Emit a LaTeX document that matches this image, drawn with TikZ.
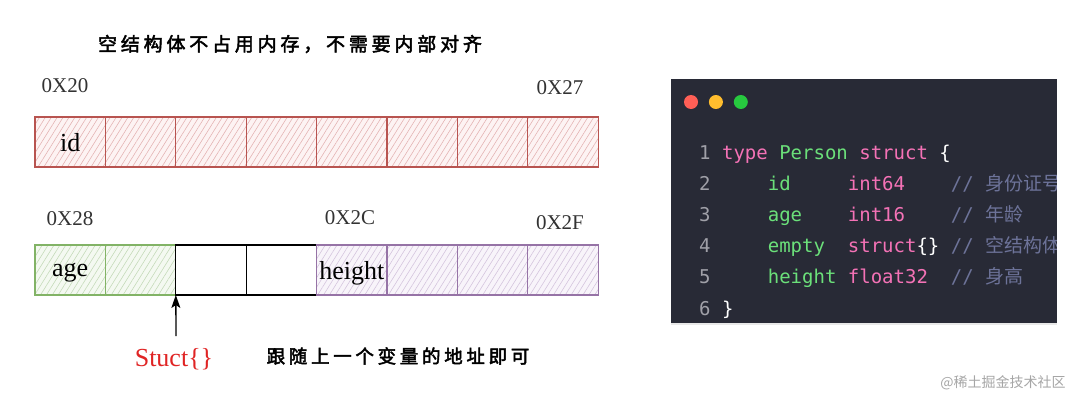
\documentclass[tikz,border=0pt]{standalone}
\usepackage{fontspec}
\setmainfont{Liberation Serif}
\setmonofont{DejaVu Sans Mono}
\newfontfamily\cjk{Noto Sans CJK SC}
\newfontfamily\cjkhand[LetterSpace=20,FakeBold=2.5]{Noto Sans CJK SC}
\usetikzlibrary{positioning,patterns.meta,arrows.meta,shadows}

\definecolor{idred}{HTML}{B85450}
\definecolor{idfill}{HTML}{FDF3F3}
\definecolor{idhatch}{HTML}{E3B0B0}
\definecolor{agegreen}{HTML}{82B366}
\definecolor{agefill}{HTML}{F4F9F1}
\definecolor{agehatch}{HTML}{C2D9B6}
\definecolor{hpurple}{HTML}{9673A6}
\definecolor{hfill}{HTML}{F8F4FA}
\definecolor{hhatch}{HTML}{D3C2DC}
\definecolor{structred}{HTML}{E02424}
\definecolor{panelbg}{HTML}{282A36}
\definecolor{lnum}{HTML}{A0A0A8}
\definecolor{kw}{HTML}{F472B6}
\definecolor{ty}{HTML}{6BE07A}
\definecolor{cmt}{HTML}{6D7399}
\definecolor{dotred}{HTML}{FF5F56}
\definecolor{dotyellow}{HTML}{FFBD2E}
\definecolor{dotgreen}{HTML}{27C93F}

\tikzstyle{cell} = [draw, line width=1.3pt, minimum width=70.4pt, minimum height=50pt,
  inner sep=0pt, outer sep=0pt, text depth=0pt, font=\fontsize{26}{28}\selectfont]
\tikzstyle{idcell} = [cell, draw=idred, preaction={fill=idfill},
  pattern={Lines[angle=58,distance=5pt,line width=0.55pt]}, pattern color=idhatch]
\tikzstyle{agecell} = [cell, draw=agegreen, preaction={fill=agefill},
  pattern={Lines[angle=58,distance=5pt,line width=0.55pt]}, pattern color=agehatch]
\tikzstyle{hcell} = [cell, draw=hpurple, preaction={fill=hfill},
  pattern={Lines[angle=58,distance=5pt,line width=0.55pt]}, pattern color=hhatch]
\tikzstyle{emptycell} = [cell, draw=black]
\tikzstyle{addr} = [font=\fontsize{21}{23}\selectfont, text=black!80]
\tikzstyle{hand} = [font=\cjkhand\fontsize{19}{21}\selectfont]
\tikzstyle{dot} = [circle, minimum size=14pt, inner sep=0pt]
\tikzstyle{codeline} = [anchor=base west, inner sep=0pt, text=lnum,
  font=\ttfamily\fontsize{19}{22}\selectfont]

\newcommand{\cmt}[1]{\textcolor{cmt}{//~{\cjk #1}}}

\begin{document}
\begin{tikzpicture}[x=1pt, y=-1pt]
\useasboundingbox[fill=white] (0,0) rectangle (1080,407);

% title
\node[hand] (title) at (290,44) {空结构体不占用内存，不需要内部对齐};

% first word: id
\node[addr] (l20) at (65,86) {0X20};
\node[addr] (l27) at (560,88) {0X27};
\node[idcell] (a1) at (70.2,142) {id};
\foreach \i [count=\j from 2] in {1,...,7}
  \node[idcell, right=0pt of a\i] (a\j) {};

% second word: age, empty, height
\node[addr] (l28) at (70,219) {0X28};
\node[addr] (l2c) at (350,218) {0X2C};
\node[addr] (l2f) at (560,223) {0X2F};
\node[agecell] (g1) at (70.2,270) {age};
\node[agecell, right=0pt of g1] (g2) {};
\node[emptycell, right=0pt of g2] (k1) {};
\node[emptycell, right=0pt of k1] (k2) {};
\node[hcell, right=0pt of k2] (p1) {height};
\foreach \i [count=\j from 2] in {1,...,3}
  \node[hcell, right=0pt of p\i] (p\j) {};

% the empty struct sits on the next address
\coordinate (tail) at (176,336);
\draw[-{Stealth[length=13pt,width=9pt,inset=3pt]}, line width=1.3pt] (tail) -- (g2.south east);
\node[font=\fontsize{26}{28}\selectfont, text=structred] (stc) at (174,359) {Stuct\{\}};
\node[hand, font=\cjkhand\fontsize{18.5}{20}\selectfont] (note) at (398,356) {跟随上一个变量的地址即可};

% code panel
\node[fill=panelbg, minimum width=386pt, minimum height=244pt, inner sep=0pt,
  drop shadow={shadow xshift=0pt, shadow yshift=-2pt, opacity=0.18}] (pnl) at (863.5,201) {};
\node[dot, fill=dotred] (d1) at (691,102) {};
\node[dot, fill=dotyellow, right=10.5pt of d1] (d2) {};
\node[dot, fill=dotgreen, right=10.5pt of d2] (d3) {};

\begin{scope}
\clip (pnl.south west) rectangle (pnl.north east);
\node[codeline] (c1) at (699,159) {1~\textcolor{kw}{type}~\textcolor{ty}{Person}~\textcolor{kw}{struct}~\textcolor{white}{\{}};
\node[codeline] (c2) at (699,190) {2~~~~~\textcolor{ty}{id}~~~~~\textcolor{kw}{int64}~~~~\cmt{身份证号}};
\node[codeline] (c3) at (699,221) {3~~~~~\textcolor{ty}{age}~~~~\textcolor{kw}{int16}~~~~\cmt{年龄}};
\node[codeline] (c4) at (699,252) {4~~~~~\textcolor{ty}{empty}~~\textcolor{kw}{struct}\textcolor{white}{\{\}}~\cmt{空结构体}};
\node[codeline] (c5) at (699,283) {5~~~~~\textcolor{ty}{height}~\textcolor{kw}{float32}~~\cmt{身高}};
\node[codeline] (c6) at (699,315) {6~\textcolor{white}{\}}};
\end{scope}

% watermark
\node[font=\cjk\fontsize{14}{16}\selectfont, text=black!35] (wm) at (1003,383) {@稀土掘金技术社区};
\end{tikzpicture}
\end{document}
